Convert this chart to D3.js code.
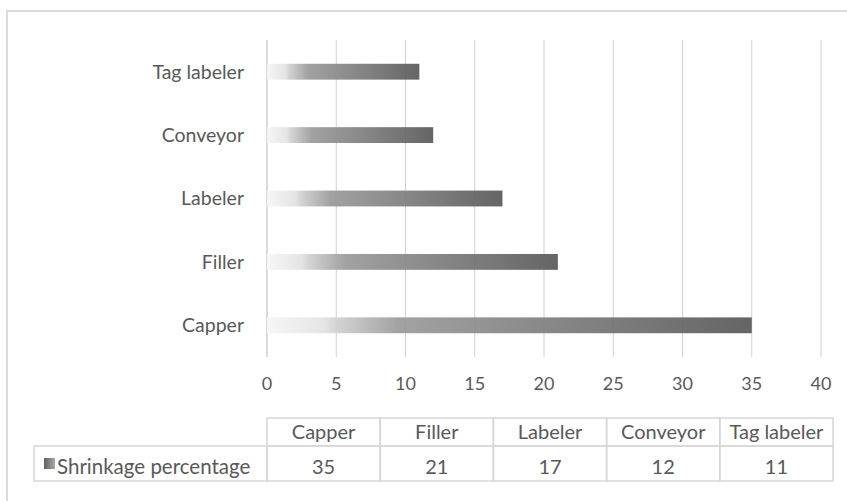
<!DOCTYPE html>
<html>
<head>
<meta charset="utf-8">
<script src="https://cdn.jsdelivr.net/npm/d3@7"></script>
<style>
  html, body { margin: 0; padding: 0; background: #fff; }
  svg text { font-family: Lato, "Open Sans", sans-serif; fill: #595959; }
</style>
</head>
<body>
<svg id="chart" width="847" height="501"></svg>
<script>
// data
const categories = ['Capper', 'Filler', 'Labeler', 'Conveyor', 'Tag labeler'];
const shrinkage = [35, 21, 17, 12, 11];
const seriesName = 'Shrinkage percentage';
const xTicks = [0, 5, 10, 15, 20, 25, 30, 35, 40];

const svg = d3.select('#chart');
const W = 847, H = 501;

// plot area
const plot = { left: 267, right: 821, top: 40, bottom: 357 };

const x = d3.scaleLinear().domain([0, 40]).range([plot.left, plot.right]);
const y = d3.scaleBand()
  .domain(categories)
  .range([plot.bottom, plot.top])
  .paddingInner(0.75)
  .paddingOuter(0.375);

// outer chart border
svg.append('rect')
  .attr('x', 7).attr('y', 11)
  .attr('width', W + 20).attr('height', H + 20)
  .attr('fill', 'none')
  .attr('stroke', '#dcdcdc')
  .attr('stroke-width', 2);

// gradients
const defs = svg.append('defs');
const grad = defs.append('linearGradient')
  .attr('id', 'barGrad')
  .attr('x1', 0).attr('x2', 1).attr('y1', 0).attr('y2', 0);
[[0, '#f6f6f6'], [0.12, '#e2e2e2'], [0.145, '#d0d0d0'], [0.27, '#9b9b9b'], [1, '#595959']]
  .forEach(([o, c]) => grad.append('stop').attr('offset', o).attr('stop-color', c));

const keyGrad = defs.append('linearGradient')
  .attr('id', 'keyGrad')
  .attr('x1', 0).attr('x2', 1).attr('y1', 0).attr('y2', 0);
[[0, '#606060'], [1, '#a8a8a8']]
  .forEach(([o, c]) => keyGrad.append('stop').attr('offset', o).attr('stop-color', c));

// gridlines
svg.append('g')
  .selectAll('line')
  .data(xTicks)
  .join('line')
  .attr('x1', d => x(d)).attr('x2', d => x(d))
  .attr('y1', plot.top).attr('y2', plot.bottom)
  .attr('stroke', d => d === 0 ? '#dadada' : '#d0d0d0')
  .attr('stroke-width', d => d === 0 ? 2 : 1);

// bars
svg.append('g')
  .selectAll('rect')
  .data(categories)
  .join('rect')
  .attr('x', x(0))
  .attr('y', d => y(d))
  .attr('width', (d, i) => x(shrinkage[i]) - x(0))
  .attr('height', y.bandwidth())
  .attr('fill', 'url(#barGrad)')
  .attr('opacity', 0.93);

// category labels
svg.append('g')
  .selectAll('text')
  .data(categories)
  .join('text')
  .attr('x', 244)
  .attr('y', d => y(d) + y.bandwidth() / 2)
  .attr('dy', '0.35em')
  .attr('text-anchor', 'end')
  .style('font-size', '19.5px')
  .text(d => d);

// value axis labels
svg.append('g')
  .selectAll('text')
  .data(xTicks)
  .join('text')
  .attr('x', d => x(d))
  .attr('y', 390)
  .attr('text-anchor', 'middle')
  .style('font-size', '18px')
  .text(d => d);

// data table
const table = { left: 34, colStart: 267, colEnd: 833, top: 418, mid: 446, bottom: 481 };
const col = d3.scaleBand().domain(categories).range([table.colStart, table.colEnd]);
const tg = svg.append('g');
const lineStyle = sel => sel.attr('stroke', '#d6d6d6').attr('stroke-width', 1.5).attr('fill', 'none');

// header cells and value cells
tg.selectAll('rect.head')
  .data(categories)
  .join('rect')
  .attr('class', 'head')
  .attr('x', d => col(d)).attr('y', table.top)
  .attr('width', col.bandwidth()).attr('height', table.mid - table.top)
  .call(lineStyle);
tg.selectAll('rect.val')
  .data(categories)
  .join('rect')
  .attr('class', 'val')
  .attr('x', d => col(d)).attr('y', table.mid)
  .attr('width', col.bandwidth()).attr('height', table.bottom - table.mid)
  .call(lineStyle);
tg.append('rect')
  .attr('x', table.left).attr('y', table.mid)
  .attr('width', table.colStart - table.left).attr('height', table.bottom - table.mid)
  .call(lineStyle);

tg.selectAll('text.head')
  .data(categories)
  .join('text')
  .attr('class', 'head')
  .attr('x', d => col(d) + col.bandwidth() / 2)
  .attr('y', 439)
  .attr('text-anchor', 'middle')
  .style('font-size', '20px')
  .text(d => d);
tg.selectAll('text.val')
  .data(categories)
  .join('text')
  .attr('class', 'val')
  .attr('x', d => col(d) + col.bandwidth() / 2)
  .attr('y', 474)
  .attr('text-anchor', 'middle')
  .style('font-size', '20px')
  .text((d, i) => shrinkage[i]);

// legend key + series name
tg.append('rect')
  .attr('x', 44).attr('y', 458)
  .attr('width', 11).attr('height', 11)
  .attr('fill', 'url(#keyGrad)');
tg.append('text')
  .attr('x', 57).attr('y', 474)
  .style('font-size', '20.5px')
  .text(seriesName);
</script>
</body>
</html>
